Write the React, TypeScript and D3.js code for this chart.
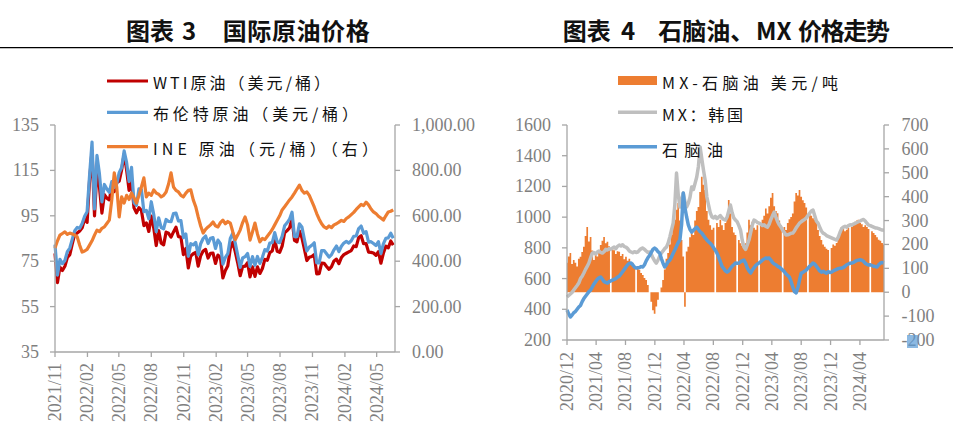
import React from 'react';
import * as d3 from 'd3';

// ---------------- Chart 3: international crude prices (weekly, from 2021-11-24) ----------------
const oilStart = '2021-11-24';
const wtiPrice = [
  78.4, 65.6, 72.4, 70.9, 72.8, 76.6,
  77.9, 82.6, 86.9, 87.4, 88.3, 89.7, 93.7, 92.1, 110.6, 123.7, 95.0, 114.9, 107.8, 96.2, 104.3, 102.8, 102.0,
  107.8, 105.7, 109.6, 110.3, 115.3, 122.1, 115.3, 106.2, 109.8, 98.5, 96.3, 98.6, 97.3, 90.7, 91.9, 88.1, 94.9,
  89.6, 81.9, 88.5, 82.9, 82.2, 87.8, 87.3, 85.6, 87.9, 90.0, 85.8, 85.6, 77.9, 80.6, 72.0, 77.3, 78.3, 78.9,
  72.8, 77.4, 79.5, 80.2, 76.4, 78.5, 78.6, 74.0, 77.7, 76.7, 67.6, 70.9, 73.0, 80.6, 83.3, 79.2, 74.3, 68.6,
  72.6, 72.8, 74.3, 68.1, 72.5, 68.3, 72.5, 69.6, 71.8, 75.8, 75.4, 78.8, 79.5, 84.4, 79.4, 78.9, 81.6, 87.5,
  88.5, 89.7, 93.7, 84.2, 83.5, 88.3, 85.4, 80.4, 75.3, 76.7, 77.1, 77.9, 69.4, 69.5, 74.2, 74.1,
  72.7, 71.4, 72.6, 75.1, 75.9, 73.9, 76.6, 77.9, 78.5, 79.1, 79.7, 81.7, 81.4, 85.4, 86.2, 82.7, 82.8, 79.0,
  78.9, 78.6, 77.6, 79.2, 74.1, 78.5, 81.6, 80.9, 83.9, 82.1,
];
const brentPrice = [
  82.3, 68.9, 75.8, 73.9, 75.3, 79.2,
  80.8, 84.7, 88.4, 89.9, 89.5, 91.6, 94.8, 96.8, 112.9, 127.5, 98.0, 121.6, 113.5, 101.1, 108.8, 106.8, 105.3,
  110.1, 107.5, 109.1, 114.0, 116.3, 123.6, 118.5, 110.1, 116.3, 100.7, 99.6, 106.9, 106.6, 96.8, 97.4, 93.7, 101.2,
  95.6, 88.0, 94.1, 89.8, 89.3, 93.4, 92.5, 92.4, 96.0, 96.2, 92.7, 92.9, 85.4, 87.0, 77.2, 82.7, 82.2, 83.3,
  77.8, 82.7, 85.0, 86.1, 82.8, 85.1, 85.4, 80.6, 84.3, 82.7, 73.7, 76.7, 78.3, 85.0, 87.3, 83.1, 77.7, 72.3,
  76.4, 77.0, 78.4, 72.7, 77.0, 73.2, 77.1, 74.0, 76.7, 80.1, 79.5, 83.0, 83.2, 87.6, 83.5, 83.2, 85.9, 90.6,
  91.9, 93.5, 96.6, 85.8, 85.8, 91.5, 90.1, 84.6, 79.5, 81.2, 82.0, 83.1, 74.3, 74.3, 79.7, 79.7,
  78.3, 76.8, 77.9, 80.0, 81.7, 79.2, 81.6, 83.0, 83.7, 83.0, 84.0, 86.0, 86.1, 89.4, 90.5, 87.3, 88.0, 83.4,
  83.6, 82.8, 81.9, 83.6, 78.4, 82.6, 85.1, 85.3, 87.3, 85.1,
];
const inePrice = [
  458, 490, 515, 522, 529, 518, 524, 520, 515, 507, 470, 440, 445, 452, 471, 490, 515, 537, 530, 545,
  551, 566, 581, 670, 789, 727, 595, 683, 656, 690, 672, 700, 680, 656, 690, 727, 767, 683, 700, 690,
  714, 700, 695, 683, 690, 705, 740, 789, 727, 712, 705, 690, 683, 700, 712, 714, 670, 640, 595, 555,
  524, 540, 551, 560, 573, 556, 551, 570, 581, 565, 575, 568, 530, 495, 515, 537, 570, 595, 560, 493,
  530, 568, 520, 485, 500, 495, 510, 524, 540, 560, 580, 600, 626, 640, 655, 670, 683, 700, 718, 735,
  712, 700, 705, 690, 665, 639, 610, 585, 565, 551, 545, 555, 548, 560, 565, 572, 580, 575, 588, 595,
  605, 615, 628, 639, 650, 645, 660, 648, 630, 617, 610, 598, 590, 581, 600, 617, 620, 626,
];
const oilLeftTicks = [35, 55, 75, 95, 115, 135];
const oilRightTicks = [0, 200, 400, 600, 800, 1000];

// ---------------- Chart 4: naphtha & MX (weekly, from 2020-12-01) ----------------
const mxStart = '2020-12-01';
const mxKorea = [
  480, 490, 500, 510, 525, 540, 555, 571, 600, 615, 636, 660, 680, 701, 735, 766, 770, 760, 773, 780,
  770, 766, 775, 790, 786, 795, 790, 799, 805, 795, 810, 818, 812, 820, 808, 805, 795, 780, 773, 768,
  775, 770, 773, 785, 795, 799, 790, 780, 770, 773, 760, 735, 715, 701, 720, 745, 766, 780, 795, 805,
  830, 870, 916, 960, 1080, 1287, 1150, 1066, 1110, 1157, 1100, 1066, 1090, 1130, 1196, 1180, 1220, 1261, 1330, 1457,
  1380, 1307, 1240, 1131, 1080, 1030, 1001, 995, 1005, 990, 1001, 1010, 995, 985, 981, 1000, 1040, 1079, 1030, 995,
  981, 970, 945, 916, 850, 805, 790, 820, 851, 900, 950, 981, 975, 965, 961, 955, 945, 950, 940, 935,
  955, 985, 1010, 1033, 1000, 970, 950, 935, 915, 900, 883, 885, 890, 895, 896, 910, 930, 945, 961, 970,
  978, 985, 994, 1010, 1025, 1040, 1046, 1010, 975, 961, 935, 910, 896, 890, 880, 875, 870, 865, 860, 855,
  851, 870, 900, 925, 935, 940, 935, 945, 950, 948, 955, 960, 965, 970, 975, 981, 985, 975, 960, 948,
  945, 940, 935, 930, 929, 925, 920, 916, 915,
];
const naphthaPrice = [
  395, 370, 350, 362, 378, 385, 400, 415, 425, 450, 470, 485, 500, 515, 525, 545, 565, 580, 595, 605,
  610, 595, 580, 575, 571, 580, 585, 590, 595, 600, 610, 615, 630, 645, 660, 675, 690, 700, 701, 690,
  675, 668, 670, 672, 678, 675, 690, 715, 735, 750, 770, 790, 799, 790, 775, 766, 730, 700, 675, 690,
  710, 720, 740, 765, 786, 810, 835, 851, 950, 1157, 1060, 1001, 950, 920, 903, 915, 925, 935, 920, 905,
  896, 880, 865, 851, 840, 830, 818, 800, 785, 766, 740, 710, 680, 665, 650, 642, 650, 665, 680, 690,
  701, 700, 701, 710, 715, 720, 700, 670, 650, 636, 655, 670, 685, 695, 701, 710, 720, 728, 734, 730,
  734, 720, 705, 695, 690, 680, 675, 665, 655, 645, 630, 620, 610, 580, 545, 515, 506, 540, 590, 636,
  640, 648, 655, 668, 680, 690, 701, 695, 680, 665, 650, 642, 648, 640, 635, 645, 640, 642, 650, 655,
  660, 665, 668, 668, 672, 680, 690, 695, 700, 701, 705, 712, 718, 720, 722, 720, 712, 700, 692, 688,
  690, 685, 680, 678, 675, 690, 700, 705, 700,
];
const mxSpread = [
  123, 150, 164, 118, 135, 123, 108, 140, 148, 168, 190, 235, 273, 212, 231, 175, 135, 162, 150, 177,
  198, 215, 231, 205, 211, 192, 0, 185, 176, 160, 172, 169, 152, 160, 138, 148, 132, 140, 125, 123,
  110, 0, 100, 94, 80, 72, 60, 51, 30, 0, -40, -75, -90, -60, -32, 0, 20, 51, 95, 140,
  164, 200, 240, 280, 303, 345, 373, 300, 219, 150, -61, 170, 190, 230, 261, 240, 300, 340, 357, 420,
  483, 450, 428, 340, 303, 280, 261, 270, 0, 290, 273, 303, 280, 260, 290, 310, 386, 330, 273, 250,
  240, 0, 219, 205, 195, 190, 205, 250, 303, 280, 295, 270, 261, 280, 0, 290, 303, 320, 350, 330,
  360, 395, 415, 360, 340, 331, 300, 280, 0, 273, 260, 290, 305, 315, 330, 380, 415, 405, 428, 400,
  385, 373, 355, 0, 331, 320, 310, 303, 295, 260, 235, 219, 200, 190, 182, 177, 0, 185, 200, 195,
  206, 230, 255, 273, 265, 255, 261, 270, 0, 273, 285, 295, 300, 303, 290, 285, 273, 280, 273, 265,
  0, 255, 248, 240, 230, 220, 215, 206, 200,
];
const mxLeftTicks = [200, 400, 600, 800, 1000, 1200, 1400, 1600];
const mxRightTicks = [-200, -100, 0, 100, 200, 300, 400, 500, 600, 700];

// ---------------- helpers ----------------
const parse = d3.timeParse('%Y-%m-%d');
const fmtMonth = d3.timeFormat('%Y/%m');
const fmtRight = d3.format(',.2f');
const weekly = (start: string, n: number) => {
  const s = parse(start) as Date;
  return d3.range(n).map((i) => d3.timeDay.offset(s, 7 * i));
};

const AXIS = '#A6A6A6';
const LABEL = '#7F7F7F';
const SERIF = '"Liberation Serif", "Times New Roman", serif';
const CJK = '"Noto Sans CJK SC", "Noto Sans", sans-serif';

const RED = '#C00000';
const BLUE = '#5B9BD5';
const ORANGE = '#ED7D31';
const GRAY = '#BFBFBF';

function OilChart() {
  const x = d3.scaleTime().domain([parse('2021-11-24') as Date, parse('2024-07-15') as Date]).range([55, 395]);
  const yL = d3.scaleLinear().domain([35, 135]).range([352, 125]);
  const yR = d3.scaleLinear().domain([0, 1000]).range([352, 125]);
  const dates = weekly(oilStart, wtiPrice.length);
  const xTicks = d3.range(11).map((i) => d3.timeMonth.offset(parse(oilStart) as Date, 3 * i));
  const lineL = d3.line<number>().x((_, i) => x(dates[i])).y((d) => yL(d));
  const lineR = d3.line<number>().x((_, i) => x(dates[i])).y((d) => yR(d));
  const [x0, x1] = x.range();
  const [yb, yt] = yL.range();
  return (
    <g>
      <path d={lineL(wtiPrice) || ''} fill="none" stroke={RED} strokeWidth={3.2} strokeLinejoin="round" />
      <path d={lineL(brentPrice) || ''} fill="none" stroke={BLUE} strokeWidth={3.2} strokeLinejoin="round" />
      <path d={lineR(inePrice) || ''} fill="none" stroke={ORANGE} strokeWidth={3.2} strokeLinejoin="round" />
      {/* axes */}
      <line x1={x0} x2={x0} y1={yt} y2={yb} stroke={AXIS} strokeWidth={1.3} />
      <line x1={x1} x2={x1} y1={yt} y2={yb} stroke={AXIS} strokeWidth={1.3} />
      <line x1={x0} x2={x1} y1={yb} y2={yb} stroke={AXIS} strokeWidth={1.3} />
      {oilLeftTicks.map((t) => (
        <g key={'l' + t}>
          <line x1={x0 - 5} x2={x0} y1={yL(t)} y2={yL(t)} stroke={AXIS} strokeWidth={1.3} />
          <text x={x0 - 16} y={yL(t)} textAnchor="end" dominantBaseline="central" fontFamily={SERIF} fontSize={18} fill={LABEL}>{t}</text>
        </g>
      ))}
      {oilRightTicks.map((t) => (
        <g key={'r' + t}>
          <line x1={x1} x2={x1 + 5} y1={yR(t)} y2={yR(t)} stroke={AXIS} strokeWidth={1.3} />
          <text x={x1 + 17} y={yR(t)} dominantBaseline="central" fontFamily={SERIF} fontSize={18} fill={LABEL}>{fmtRight(t)}</text>
        </g>
      ))}
      {xTicks.map((d, i) => (
        <g key={'x' + i}>
          <line x1={x(d)} x2={x(d)} y1={yb} y2={yb + 5} stroke={AXIS} strokeWidth={1.3} />
          <text transform={`translate(${x(d)},${yb + 11}) rotate(-90)`} textAnchor="end" dominantBaseline="central" fontFamily={SERIF} fontSize={18} fill={LABEL}>{fmtMonth(d)}</text>
        </g>
      ))}
      {/* legend */}
      <line x1={107} x2={148} y1={81} y2={81} stroke={RED} strokeWidth={3.2} />
      <text x={153} y={81.5} dominantBaseline="central" fontFamily={CJK} fontSize={16} fill="#111" textLength={177} lengthAdjust="spacing">WTI原油（美元/桶）</text>
      <line x1={107} x2={148} y1={112.3} y2={112.3} stroke={BLUE} strokeWidth={3.2} />
      <text x={153} y={113} dominantBaseline="central" fontFamily={CJK} fontSize={16} fill="#111" textLength={205} lengthAdjust="spacing">布伦特原油（美元/桶）</text>
      <line x1={107} x2={148} y1={146.7} y2={146.7} stroke={ORANGE} strokeWidth={3.2} />
      <text x={153} y={147.5} dominantBaseline="central" fontFamily={CJK} fontSize={16} fill="#111" textLength={225} lengthAdjust="spacing">INE 原油（元/桶）（右）</text>
    </g>
  );
}

function MxChart() {
  const x = d3.scaleTime().domain([parse('2020-12-01') as Date, parse('2024-07-10') as Date]).range([567, 884]);
  const yL = d3.scaleLinear().domain([200, 1600]).range([340, 125]);
  const yR = d3.scaleLinear().domain([-200, 700]).range([340, 125]);
  const dates = weekly(mxStart, mxKorea.length);
  const xTicks = d3.range(11).map((i) => d3.timeMonth.offset(parse(mxStart) as Date, 4 * i));
  const lineL = d3.line<number>().x((_, i) => x(dates[i])).y((d) => yL(d));
  const [x0, x1] = x.range();
  const [yb, yt] = yL.range();
  const step = x(dates[1]) - x(dates[0]);
  const y0 = yR(0);
  let bars = '';
  mxSpread.forEach((v, i) => {
    if (v === 0) return;
    const cx = x(dates[i]);
    const left = Math.max(x0, cx - step / 2);
    const right = Math.min(x1, cx + step / 2);
    bars += `M${left},${y0}H${right}V${yR(v)}H${left}Z`;
  });
  return (
    <g>
      <path d={bars} fill={ORANGE} />
      <path d={lineL(mxKorea) || ''} fill="none" stroke={GRAY} strokeWidth={3.5} strokeLinejoin="round" />
      <path d={lineL(naphthaPrice) || ''} fill="none" stroke={BLUE} strokeWidth={3.5} strokeLinejoin="round" />
      {/* axes */}
      <line x1={x0} x2={x0} y1={yt} y2={yb} stroke={AXIS} strokeWidth={1.3} />
      <line x1={x1} x2={x1} y1={yt} y2={yb} stroke={AXIS} strokeWidth={1.3} />
      <line x1={x0} x2={x1} y1={yb} y2={yb} stroke={AXIS} strokeWidth={1.3} />
      {mxLeftTicks.map((t) => (
        <g key={'l' + t}>
          <line x1={x0 - 5} x2={x0} y1={yL(t)} y2={yL(t)} stroke={AXIS} strokeWidth={1.3} />
          <text x={x0 - 16} y={yL(t)} textAnchor="end" dominantBaseline="central" fontFamily={SERIF} fontSize={18} fill={LABEL}>{t}</text>
        </g>
      ))}
      {mxRightTicks.map((t) => (
        <g key={'r' + t}>
          <line x1={x1} x2={x1 + 5} y1={yR(t)} y2={yR(t)} stroke={AXIS} strokeWidth={1.3} />
          <text x={x1 + 17.5} y={yR(t)} dominantBaseline="central" fontFamily={SERIF} fontSize={18} fill={LABEL}>{t}</text>
        </g>
      ))}
      <rect x={907} y={335} width={11} height={13} fill={BLUE} opacity={0.7} />
      {xTicks.map((d, i) => (
        <g key={'x' + i}>
          <line x1={x(d)} x2={x(d)} y1={yb} y2={yb + 5} stroke={AXIS} strokeWidth={1.3} />
          <text transform={`translate(${x(d)},${yb + 12}) rotate(-90)`} textAnchor="end" dominantBaseline="central" fontFamily={SERIF} fontSize={18} fill={LABEL}>{fmtMonth(d)}</text>
        </g>
      ))}
      {/* legend */}
      <rect x={618} y={76} width={39} height={9} fill={ORANGE} />
      <text x={662} y={81.5} dominantBaseline="central" fontFamily={CJK} fontSize={16} fill="#111" textLength={176} lengthAdjust="spacing">MX-石脑油 美元/吨</text>
      <line x1={618} x2={657} y1={112.3} y2={112.3} stroke={GRAY} strokeWidth={3.5} />
      <text x={662} y={114} dominantBaseline="central" fontFamily={CJK} fontSize={16} fill="#111" textLength={81} lengthAdjust="spacing">MX：韩国</text>
      <line x1={618} x2={657} y1={146.7} y2={146.7} stroke={BLUE} strokeWidth={3.5} />
      <text x={662} y={148.5} dominantBaseline="central" fontFamily={CJK} fontSize={16} fill="#111" textLength={61} lengthAdjust="spacing">石脑油</text>
    </g>
  );
}

export default function App() {
  const titleStyle = { fontFamily: CJK, fontWeight: 700, fontSize: 24, fill: '#111' } as const;
  return (
    <svg width={976} height={441} style={{ position: 'absolute', left: 0, top: 0, background: '#fff' }}>
      <rect x={0} y={0} width={976} height={441} fill="#fff" />
      <text y={40} {...titleStyle}>
        <tspan x={126}>图表</tspan>
        <tspan x={182}>3</tspan>
        <tspan x={222.7} textLength={147} lengthAdjust="spacing">国际原油价格</tspan>
      </text>
      <text y={40} {...titleStyle}>
        <tspan x={562.7}>图表</tspan>
        <tspan x={621}>4</tspan>
        <tspan x={658.3}>石脑油、</tspan>
        <tspan x={756}>MX</tspan>
        <tspan x={798} textLength={92} lengthAdjust="spacing">价格走势</tspan>
      </text>
      <line x1={0} x2={953} y1={47.7} y2={47.7} stroke="#000" strokeWidth={1.3} />
      <OilChart />
      <MxChart />
    </svg>
  );
}
